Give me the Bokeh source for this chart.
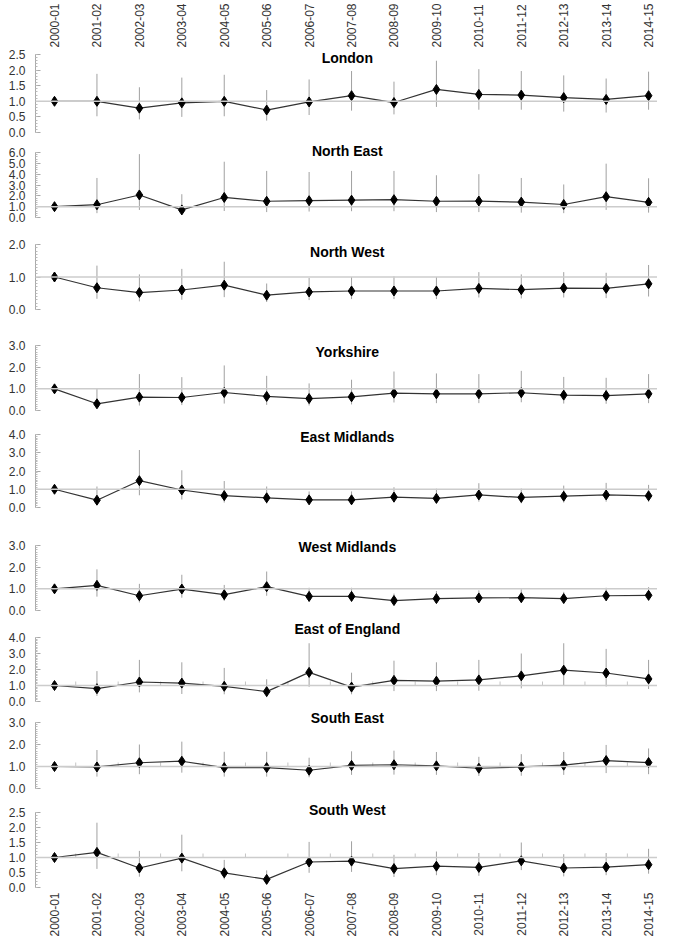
import numpy as np
from bokeh.plotting import figure
from bokeh.layouts import column
from bokeh.models import (Range1d, FixedTicker, SingleIntervalTicker, LinearAxis,
                          Label, Span, NumeralTickFormatter, ColumnDataSource)
from bokeh.embed import file_html
from bokeh.resources import INLINE

years = ["2000-01", "2001-02", "2002-03", "2003-04", "2004-05", "2005-06", "2006-07",
         "2007-08", "2008-09", "2009-10", "2010-11", "2011-12", "2012-13", "2013-14", "2014-15"]

regions = ["London", "North East", "North West", "Yorkshire", "East Midlands",
           "West Midlands", "East of England", "South East", "South West"]

london_val = [1.0, 1.0, 0.78, 0.95, 1.0, 0.72, 0.98, 1.18, 0.96, 1.38, 1.22, 1.2, 1.12, 1.06, 1.18]
london_hi = [1.06, 1.88, 1.45, 1.76, 1.85, 1.36, 1.7, 1.97, 1.63, 2.3, 2.03, 1.97, 1.83, 1.73, 1.95]
london_lo = [0.94, 0.52, 0.42, 0.5, 0.52, 0.38, 0.56, 0.7, 0.58, 0.82, 0.73, 0.73, 0.67, 0.64, 0.73]

ne_val = [1.0, 1.18, 2.08, 0.7, 1.85, 1.5, 1.55, 1.6, 1.65, 1.5, 1.52, 1.42, 1.2, 1.92, 1.4]
ne_hi = [1.1, 3.65, 5.85, 2.15, 5.15, 4.3, 4.2, 4.3, 4.3, 3.9, 4.0, 3.65, 3.05, 4.97, 3.62]
ne_lo = [0.85, 0.4, 0.7, 0.3, 0.6, 0.5, 0.55, 0.58, 0.58, 0.5, 0.5, 0.45, 0.4, 0.7, 0.45]

nw_val = [1.0, 0.67, 0.52, 0.6, 0.75, 0.44, 0.54, 0.57, 0.57, 0.57, 0.65, 0.61, 0.66, 0.65, 0.79]
nw_hi = [1.05, 1.35, 1.08, 1.25, 1.47, 0.8, 0.97, 1.0, 1.02, 1.0, 1.15, 1.08, 1.15, 1.13, 1.37]
nw_lo = [0.93, 0.33, 0.25, 0.3, 0.38, 0.23, 0.29, 0.32, 0.32, 0.32, 0.37, 0.34, 0.37, 0.35, 0.4]

yk_val = [1.0, 0.31, 0.62, 0.6, 0.83, 0.65, 0.55, 0.63, 0.8, 0.77, 0.77, 0.82, 0.71, 0.69, 0.77]
yk_hi = [1.08, 1.0, 1.68, 1.54, 2.08, 1.6, 1.25, 1.42, 1.8, 1.71, 1.68, 1.83, 1.55, 1.51, 1.68]
yk_lo = [0.92, 0.15, 0.23, 0.25, 0.32, 0.26, 0.23, 0.28, 0.37, 0.34, 0.34, 0.38, 0.32, 0.31, 0.34]

em_val = [1.0, 0.4, 1.47, 0.96, 0.65, 0.53, 0.42, 0.42, 0.57, 0.5, 0.69, 0.55, 0.62, 0.69, 0.64]
em_hi = [1.1, 1.15, 3.15, 2.04, 1.45, 1.15, 0.88, 0.88, 1.11, 1.03, 1.33, 1.04, 1.2, 1.35, 1.24]
em_lo = [0.9, 0.2, 0.67, 0.44, 0.27, 0.21, 0.18, 0.18, 0.27, 0.23, 0.32, 0.23, 0.27, 0.32, 0.3]

wm_val = [1.0, 1.16, 0.68, 0.99, 0.73, 1.1, 0.65, 0.65, 0.46, 0.55, 0.58, 0.59, 0.55, 0.68, 0.7]
wm_hi = [1.08, 1.9, 1.23, 1.65, 1.18, 1.8, 1.05, 1.05, 0.78, 0.9, 0.93, 0.98, 0.86, 1.05, 1.08]
wm_lo = [0.9, 0.64, 0.37, 0.59, 0.44, 0.68, 0.41, 0.41, 0.31, 0.37, 0.39, 0.39, 0.37, 0.46, 0.46]

ee_val = [1.0, 0.8, 1.22, 1.15, 0.95, 0.62, 1.82, 0.9, 1.32, 1.27, 1.35, 1.6, 1.96, 1.78, 1.41]
ee_hi = [1.1, 1.9, 2.6, 2.45, 2.1, 1.39, 3.64, 1.8, 2.55, 2.45, 2.6, 3.0, 3.64, 3.29, 2.6]
ee_lo = [0.88, 0.35, 0.57, 0.47, 0.45, 0.27, 0.92, 0.45, 0.65, 0.65, 0.67, 0.82, 0.98, 0.94, 0.78]

se_val = [1.0, 0.98, 1.17, 1.24, 0.95, 0.95, 0.83, 1.05, 1.08, 1.03, 0.92, 0.98, 1.06, 1.27, 1.18]
se_hi = [1.08, 1.75, 2.0, 2.13, 1.67, 1.67, 1.4, 1.69, 1.72, 1.66, 1.44, 1.56, 1.66, 1.98, 1.82]
se_lo = [0.92, 0.54, 0.65, 0.72, 0.54, 0.54, 0.51, 0.62, 0.63, 0.62, 0.57, 0.58, 0.62, 0.7, 0.65]

sw_val = [1.0, 1.17, 0.65, 0.98, 0.49, 0.27, 0.85, 0.88, 0.63, 0.71, 0.67, 0.89, 0.65, 0.68, 0.76]
sw_hi = [1.05, 2.16, 1.22, 1.76, 0.92, 0.57, 1.52, 1.54, 1.09, 1.2, 1.15, 1.5, 1.11, 1.15, 1.29]
sw_lo = [0.95, 0.62, 0.36, 0.54, 0.27, 0.16, 0.49, 0.52, 0.35, 0.41, 0.39, 0.58, 0.37, 0.41, 0.46]

y_max = [2.5, 6.0, 2.0, 3.0, 4.0, 3.0, 4.0, 3.0, 2.5]
y_step = [0.5, 1.0, 1.0, 1.0, 1.0, 1.0, 1.0, 1.0, 0.5]
ref_value = 1.0

series = [(london_val, london_hi, london_lo), (ne_val, ne_hi, ne_lo), (nw_val, nw_hi, nw_lo),
          (yk_val, yk_hi, yk_lo), (em_val, em_hi, em_lo), (wm_val, wm_hi, wm_lo),
          (ee_val, ee_hi, ee_lo), (se_val, se_hi, se_lo), (sw_val, sw_hi, sw_lo)]

# ---- layout: page pixel rows of each y axis (top value, zero) ----
axes_px = [(59, 137), (157, 222), (249, 314), (350, 415), (439, 512),
           (550, 615), (642, 706), (727, 793), (817, 892)]
title_off = [3, -2, 7, 6, 2, 1, -9, -5, -3]     # title centre relative to axis top
extra_top = [3, 10, 1, 2, 6, 7, 17, 13, 11]      # frame room above the axis top
minor_n = [5, 5, 10, 10, 10, 10, 10, 10, 5]
half_ticks = [False, False, False, False, False, False, True, True, True]
FONT = "Liberation Sans"
FRAME_W = 622
LEFT = 35
X0, X1 = -0.448, 14.21
PAGE_TOP, PAGE_BOTTOM = 8, 941
x = list(range(len(years)))
overrides = {i: y for i, y in enumerate(years)}


def x_axis(standoff):
    ax = LinearAxis(ticker=FixedTicker(ticks=x), major_label_overrides=overrides)
    ax.major_label_orientation = np.pi / 2
    ax.axis_line_color = None
    ax.major_tick_line_color = None
    ax.minor_tick_line_color = None
    ax.major_tick_out = 0
    ax.major_tick_in = 0
    ax.major_label_standoff = standoff
    ax.major_label_text_font = FONT
    ax.major_label_text_font_size = "12px"
    ax.major_label_text_color = "#333333"
    return ax


figs = []
n = len(regions)
for i in range(n):
    atop, abot = axes_px[i]
    axis_h = abot - atop
    ftop = atop - extra_top[i]
    fh = abot - ftop
    ppu = axis_h / y_max[i]
    if i == 0:
        bt = ftop - PAGE_TOP
    else:
        bt = ftop - axes_px[i - 1][1] - 7
    bb = 7 if i < n - 1 else PAGE_BOTTOM - abot
    p = figure(frame_width=FRAME_W, frame_height=fh,
               min_border_left=LEFT, min_border_right=0,
               min_border_top=bt, min_border_bottom=bb,
               x_range=Range1d(X0, X1),
               y_range=Range1d(0, y_max[i] + extra_top[i] / ppu),
               x_axis_location=None, output_backend="svg",
               toolbar_location=None, tools="")
    p.outline_line_color = None
    p.grid.visible = False
    p.background_fill_color = "white"
    p.border_fill_color = "white"

    ya = p.yaxis[0]
    ya.bounds = (0, y_max[i])
    ya.ticker = SingleIntervalTicker(interval=y_step[i], num_minor_ticks=minor_n[i])
    ya.formatter = NumeralTickFormatter(format="0.0")
    ya.axis_line_color = "#aaaaaa"
    ya.major_tick_line_color = "#aaaaaa"
    ya.minor_tick_line_color = "#bbbbbb"
    ya.major_tick_in = 5
    ya.major_tick_out = 0
    ya.minor_tick_in = 2
    ya.minor_tick_out = 0
    ya.major_label_standoff = 10
    ya.major_label_text_font = FONT
    ya.major_label_text_font_size = "12px"
    ya.major_label_text_color = "#333333"

    p.add_layout(Span(location=ref_value, dimension="width", line_color="#cccccc", line_width=1.5))

    if half_ticks[i]:
        hx = [k + 0.5 for k in x[:-1]]
        p.segment(x0=hx, y0=[ref_value] * len(hx), x1=hx,
                  y1=[ref_value + 4 / ppu] * len(hx), line_color="#c4c4c4", line_width=1)

    val, hi, lo = series[i]
    src = ColumnDataSource(dict(x=x, val=val, hi=hi, lo=lo))
    p.segment(x0="x", y0="lo", x1="x", y1="hi", source=src, line_color="#a0a0a0", line_width=1)
    p.line("x", "val", source=src, line_color="#333333", line_width=1.2)
    p.scatter("x", "val", source=src, marker="diamond", size=10, line_width=1,
              fill_color="black", line_color="black")

    p.add_layout(Label(x=6.9, y=y_max[i] - title_off[i] / ppu, text=regions[i],
                       text_align="center", text_baseline="middle",
                       text_font=FONT, text_font_size="14px", text_font_style="bold",
                       text_color="black"))

    if i == 0:
        p.add_layout(x_axis(4), "above")
    if i == n - 1:
        p.add_layout(x_axis(5), "below")
    figs.append(p)

layout = column(*figs, spacing=0)
open("out.html", "w").write(file_html(layout, INLINE))
